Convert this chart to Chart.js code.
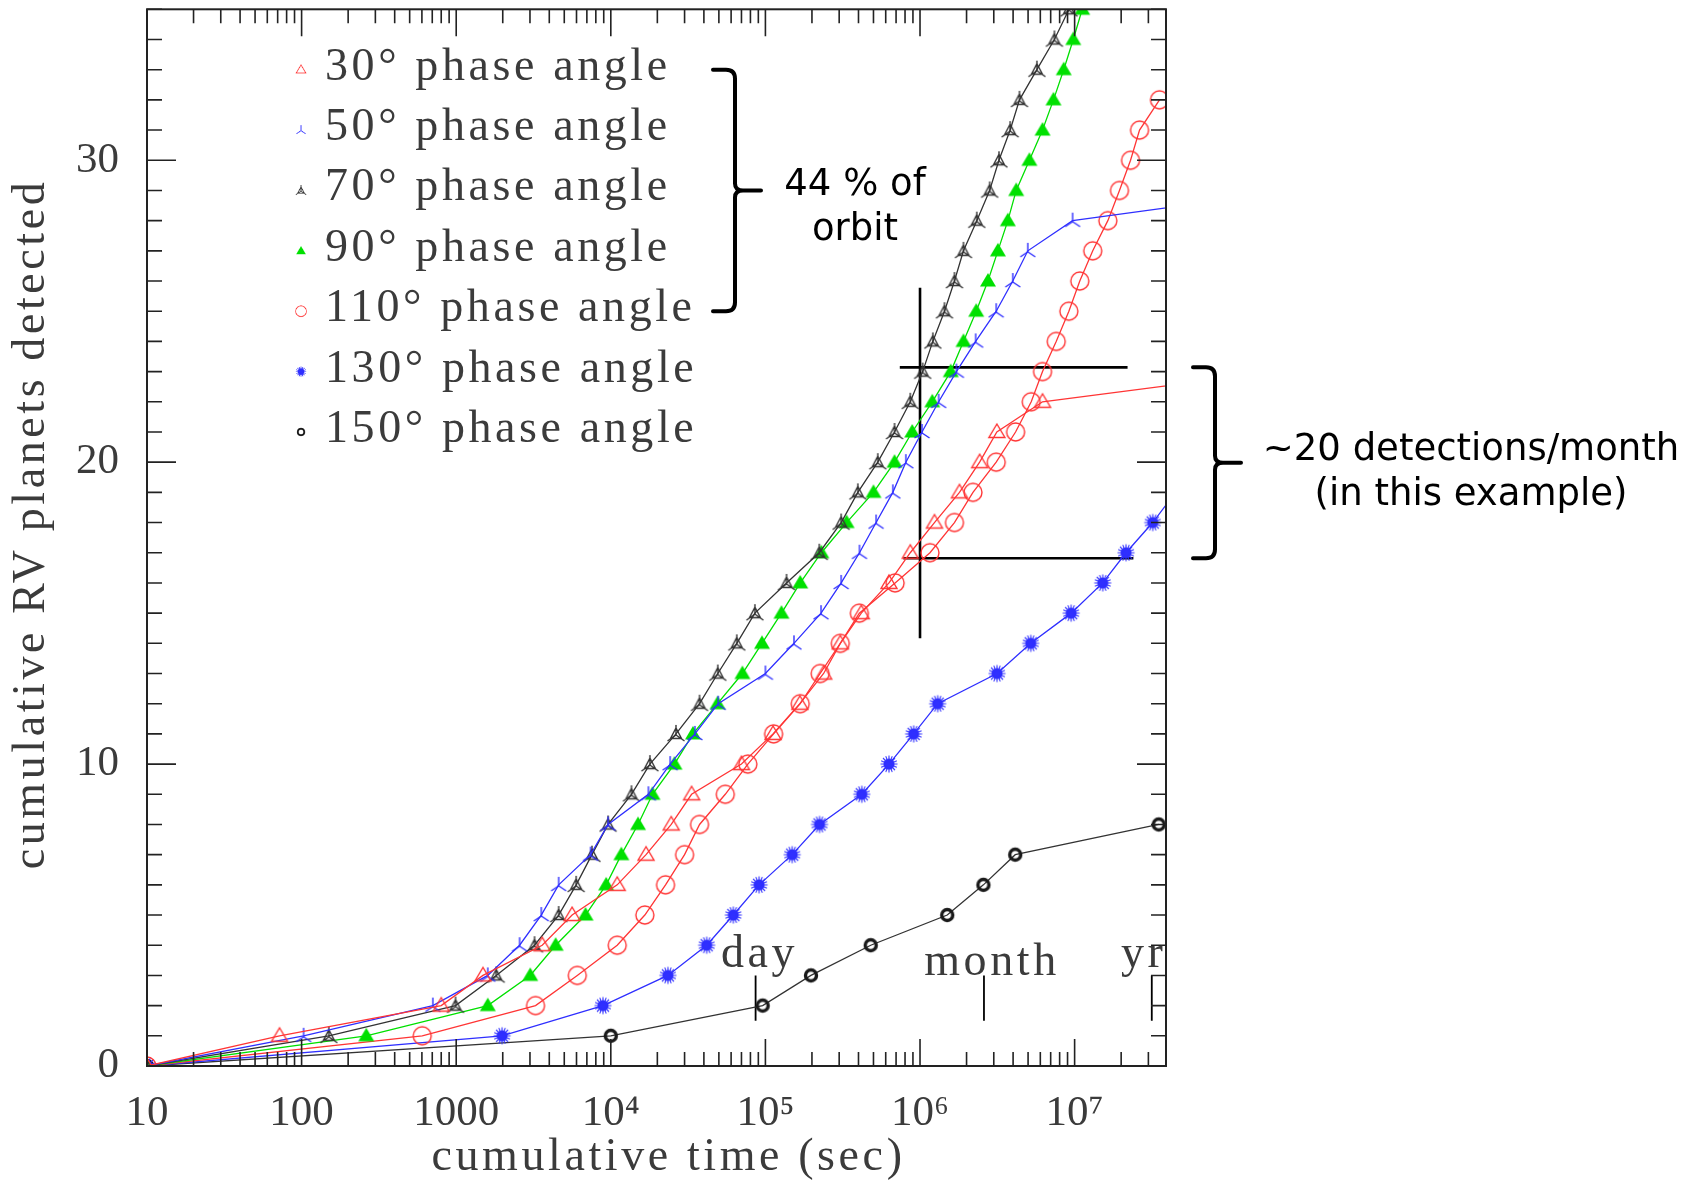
<!DOCTYPE html>
<html>
<head>
<meta charset="utf-8">
<script src="https://cdn.jsdelivr.net/npm/chart.js@4"></script>
<style>
html,body{margin:0;padding:0;background:#fff;}
canvas{display:block;}
</style>
</head>
<body>
<canvas id="rvChart" width="1701" height="1181"></canvas>
<script>
// cumulative number of planets detected (y) - every series steps up by one per point
const detections = [0,1,2,3,4,5,6,7,8,9,10,11,12,13,14,15,16,17,18,19,20,21,22,23,24,25,26,27,28,29,30,31,32,33,34,35];

// cumulative time (sec) at which each detection happens, one list per phase angle
const time30 = [10,72,800,1490,3600,5620,1.1e4,1.69e4,2.46e4,3.33e4,7.0e4,1.12e5,1.67e5,2.38e5,3.05e5,4.17e5,6.3e5,8.65e5,1.24e6,1.8e6,2.43e6,3.14e6,6.2e6,2.0e8];
const time50 = [10,103,706,1600,2570,3550,4600,7400,9600,1.75e4,2.42e4,3.5e4,4.95e4,1.0e5,1.53e5,2.29e5,3.09e5,4.06e5,5.2e5,6.67e5,8.1e5,1.03e6,1.32e6,1.72e6,2.29e6,3.11e6,3.98e6,4.98e6,9.7e6,2.65e8];
const time70 = [10,150,990,1815,3210,4600,5970,7550,9600,1.36e4,1.79e4,2.64e4,3.75e4,4.92e4,6.53e4,8.55e4,1.37e5,2.23e5,3.09e5,3.96e5,5.33e5,6.84e5,8.65e5,1.04e6,1.21e6,1.44e6,1.67e6,1.91e6,2.33e6,2.82e6,3.24e6,3.83e6,4.4e6,5.7e6,7.4e6,9.2e6];
const time90 = [10,262,1600,3010,4400,6860,9330,1.17e4,1.5e4,1.86e4,2.58e4,3.4e4,4.9e4,7.1e4,9.5e4,1.27e5,1.68e5,2.3e5,3.35e5,5.0e5,6.84e5,8.9e5,1.2e6,1.58e6,1.91e6,2.31e6,2.75e6,3.19e6,3.7e6,4.19e6,5.1e6,6.2e6,7.3e6,8.5e6,9.8e6,1.12e7];
const time110 = [10,603,3260,6070,1.1e4,1.66e4,2.26e4,3.0e4,3.75e4,5.5e4,7.7e4,1.13e5,1.68e5,2.26e5,3.05e5,4.05e5,6.9e5,1.16e6,1.67e6,2.2e6,3.11e6,4.15e6,5.24e6,6.2e6,7.6e6,9.18e6,1.08e7,1.31e7,1.64e7,1.95e7,2.3e7,2.63e7,3.54e7];
const time130 = [10,1980,8900,2.34e4,4.17e4,6.2e4,9.1e4,1.49e5,2.24e5,4.2e5,6.3e5,9.1e5,1.3e6,3.15e6,5.2e6,9.5e6,1.52e7,2.15e7,3.2e7,4.5e7];
const time150 = [10,1.0e4,9.6e4,1.97e5,4.8e5,1.5e6,2.57e6,4.13e6,3.5e7];

const seriesLabels = ["30° phase angle","50° phase angle","70° phase angle","90° phase angle","110° phase angle","130° phase angle","150° phase angle"];

// axis ticks
const xDecades = [10,100,1000,1e4,1e5,1e6,1e7];
const yLabelTicks = [0,10,20,30];

// time markers (sec) and the detection-rate crosshair
const markerNames = ["day","month","yr"];
const markerTimes = [86400,2592000,31557600];
const markerSpan = [1.5,3.0];
const crossTime = 1e6;
const crossSpan = [14.17,25.78];
const rateHigh = 23.14, rateHighFrom = 7.4e5, rateHighTo = 2.2e7;
const rateLow = 16.82, rateLowFrom = 7.8e5, rateLowTo = 2.4e7;

const RED = "#ff3535", BLUE = "#2f2fff", DARK = "#333333", GREEN = "#00e000", INK = "#1a1a1a";

function markerCanvas(kind, color) {
  const c = document.createElement("canvas");
  c.width = 26; c.height = 26;
  const g = c.getContext("2d");
  g.translate(13, 13);
  g.strokeStyle = color; g.fillStyle = color; g.lineWidth = 1.4;
  g.beginPath();
  if (kind === "triOpen" || kind === "triFill") {
    g.moveTo(0, -8); g.lineTo(8, 5.5); g.lineTo(-8, 5.5); g.closePath();
    if (kind === "triFill") g.fill(); else g.stroke();
  } else if (kind === "tristar") {
    g.moveTo(0, -8); g.lineTo(0, 1);
    g.moveTo(0, 1); g.lineTo(-7.5, 6);
    g.moveTo(0, 1); g.lineTo(7.5, 6);
    g.stroke();
  } else if (kind === "atri") {
    g.moveTo(0, -6); g.lineTo(5.5, 4.5); g.lineTo(-5.5, 4.5); g.closePath();
    g.moveTo(0, -9); g.lineTo(0, 1);
    g.moveTo(0, 1); g.lineTo(-8.5, 7);
    g.moveTo(0, 1); g.lineTo(8.5, 7);
    g.stroke();
  } else if (kind === "circle") {
    g.arc(0, 0, 9, 0, Math.PI * 2);
    g.stroke();
  } else if (kind === "star") {
    g.arc(0, 0, 5.5, 0, Math.PI * 2);
    g.fill();
    g.beginPath(); g.lineWidth = 1.1;
    for (let i = 0; i < 16; i++) {
      const a = i * Math.PI / 8;
      g.moveTo(0, 0); g.lineTo(Math.cos(a) * 8.5, Math.sin(a) * 8.5);
    }
    g.stroke();
  } else if (kind === "ring") {
    g.lineWidth = 3.4;
    g.arc(0, 0, 5.5, 0, Math.PI * 2);
    g.stroke();
  }
  return c;
}

const markers = [
  markerCanvas("triOpen", RED),
  markerCanvas("tristar", BLUE),
  markerCanvas("atri", DARK),
  markerCanvas("triFill", GREEN),
  markerCanvas("circle", RED),
  markerCanvas("star", BLUE),
  markerCanvas("ring", INK)
];
const lineColors = [RED, BLUE, DARK, GREEN, RED, BLUE, DARK];
const times = [time30, time50, time70, time90, time110, time130, time150];

function toPoints(t) {
  return t.map((v, i) => ({ x: v, y: detections[i] }));
}

const datasets = times.map((t, i) => ({
  label: seriesLabels[i],
  data: toPoints(t),
  borderColor: lineColors[i],
  backgroundColor: lineColors[i],
  borderWidth: 1.3,
  pointStyle: markers[i],
  pointRadius: 8,
  tension: 0
}));

function guide(points, width) {
  return { label: "", data: points, borderColor: "#000", borderWidth: width, pointRadius: 0, tension: 0 };
}

markerTimes.forEach(t => {
  datasets.push(guide([{ x: t, y: markerSpan[0] }, { x: t, y: markerSpan[1] }], 1.8));
});
datasets.push(guide([{ x: crossTime, y: crossSpan[0] }, { x: crossTime, y: crossSpan[1] }], 2.6));
datasets.push(guide([{ x: rateHighFrom, y: rateHigh }, { x: rateHighTo, y: rateHigh }], 2.6));
datasets.push(guide([{ x: rateLowFrom, y: rateLow }, { x: rateLowTo, y: rateLow }], 2.6));

const SERIF = "'Liberation Serif', 'DejaVu Serif', serif";
const SANS = "'DejaVu Sans', Verdana, sans-serif";
const GREY = "#3b3b3b";

function spaced(ctx, text, x, y, align) {
  ctx.letterSpacing = "3.6px";
  ctx.textAlign = align;
  ctx.fillText(text, align === "center" ? x + 2 : x, y);
  ctx.letterSpacing = "0px";
}

function brace(ctx, xArm, xSpine, xTip, yTop, yBot) {
  const ym = (yTop + yBot) / 2, r = 9;
  ctx.beginPath();
  ctx.moveTo(xArm, yTop);
  ctx.lineTo(xSpine - r, yTop);
  ctx.quadraticCurveTo(xSpine, yTop, xSpine, yTop + r);
  ctx.lineTo(xSpine, ym - 7);
  ctx.quadraticCurveTo(xSpine, ym, xSpine + 8, ym);
  ctx.lineTo(xTip, ym);
  ctx.moveTo(xSpine + 8, ym);
  ctx.quadraticCurveTo(xSpine, ym, xSpine, ym + 7);
  ctx.lineTo(xSpine, yBot - r);
  ctx.quadraticCurveTo(xSpine, yBot, xSpine - r, yBot);
  ctx.lineTo(xArm, yBot);
  ctx.stroke();
}

const framePlugin = {
  id: "frame",
  afterDatasetsDraw(chart) {
    const ctx = chart.ctx, a = chart.chartArea, x = chart.scales.x, y = chart.scales.y;
    ctx.save();

    // box and inward ticks on all four sides
    ctx.strokeStyle = "#222";
    ctx.lineWidth = 2;
    ctx.strokeRect(a.left, a.top, a.right - a.left, a.bottom - a.top);
    ctx.lineWidth = 1.6;
    ctx.beginPath();
    for (let e = 1; e <= 7; e++) {
      for (let k = 1; k <= 9; k++) {
        const v = k * Math.pow(10, e);
        if (v > x.max) break;
        const px = x.getPixelForValue(v);
        const len = k === 1 ? 27 : 14;
        ctx.moveTo(px, a.bottom); ctx.lineTo(px, a.bottom - len);
        ctx.moveTo(px, a.top); ctx.lineTo(px, a.top + len);
      }
    }
    for (let v = 1; v <= 35; v++) {
      const py = y.getPixelForValue(v);
      const len = v % 10 === 0 ? 29 : 15;
      ctx.moveTo(a.left, py); ctx.lineTo(a.left + len, py);
      ctx.moveTo(a.right, py); ctx.lineTo(a.right - len, py);
    }
    ctx.stroke();

    // axis titles
    ctx.fillStyle = GREY;
    ctx.font = "46px " + SERIF;
    ctx.textBaseline = "alphabetic";
    spaced(ctx, "cumulative time (sec)", (a.left + a.right) / 2 + 10, 1170, "center");
    ctx.save();
    ctx.translate(44, 526);
    ctx.rotate(-Math.PI / 2);
    spaced(ctx, "cumulative RV planets detected", 0, 0, "center");
    ctx.restore();

    // day / month / yr labels
    const mOff = [-8, 0, -8], mShift = [2, 6, -10];
    markerNames.forEach((n, i) => {
      const px = x.getPixelForValue(markerTimes[i]);
      const py = y.getPixelForValue(markerSpan[1]);
      spaced(ctx, n, px + mShift[i], py + mOff[i], "center");
    });

    // legend inside the plot
    const rows = [33, 31, 29, 27, 25, 23, 21];
    seriesLabels.forEach((lab, i) => {
      const py = y.getPixelForValue(rows[i]);
      const m = markers[i];
      ctx.drawImage(m, 301 - m.width * 0.3, py - m.height * 0.3, m.width * 0.6, m.height * 0.6);
      spaced(ctx, lab, 325, py + 10, "left");
    });

    // braces and notes
    ctx.strokeStyle = "#000";
    ctx.lineWidth = 4;
    ctx.lineCap = "round";
    brace(ctx, a.left + 566, a.left + 588, a.left + 614, y.getPixelForValue(rows[0]), y.getPixelForValue(rows[4]));
    brace(ctx, a.right + 27, a.right + 49, a.right + 75, y.getPixelForValue(rateHigh), y.getPixelForValue(rateLow));

    ctx.fillStyle = "#000";
    ctx.font = "37px " + SANS;
    ctx.textAlign = "center";
    ctx.fillText("44 % of", 855, 195);
    ctx.fillText("orbit", 855, 240);
    ctx.fillText("~20 detections/month", 1471, 460);
    ctx.fillText("(in this example)", 1471, 505);

    ctx.restore();
  }
};

const supDigits = { 4: "⁴", 5: "⁵", 6: "⁶", 7: "⁷" };

function noPadding(s) {
  s.paddingTop = 0; s.paddingBottom = 0; s.paddingLeft = 0; s.paddingRight = 0;
}

new Chart(document.getElementById("rvChart"), {
  type: "line",
  data: { datasets: datasets },
  options: {
    responsive: false,
    animation: false,
    events: [],
    layout: { padding: { left: 0, right: 535, top: 5, bottom: 0 } },
    plugins: { legend: { display: false }, tooltip: { enabled: false } },
    scales: {
      x: {
        type: "logarithmic",
        min: 10,
        max: 3.9e7,
        grid: { display: false },
        border: { display: false },
        afterBuildTicks: s => { s.ticks = xDecades.map(v => ({ value: v })); },
        afterFit: s => { s.height = 115; noPadding(s); },
        ticks: {
          autoSkip: false,
          maxRotation: 0,
          padding: 14,
          color: GREY,
          font: { family: SERIF, size: 43 },
          callback: v => {
            const e = Math.round(Math.log10(v));
            return e <= 3 ? String(v) : "10" + supDigits[e];
          }
        }
      },
      y: {
        min: 0,
        max: 35,
        grid: { display: false },
        border: { display: false },
        afterBuildTicks: s => { s.ticks = yLabelTicks.map(v => ({ value: v })); },
        afterFit: s => { s.width = 147; noPadding(s); },
        ticks: {
          padding: 20,
          color: GREY,
          font: { family: SERIF, size: 43 }
        }
      }
    }
  },
  plugins: [framePlugin]
});
</script>
</body>
</html>
